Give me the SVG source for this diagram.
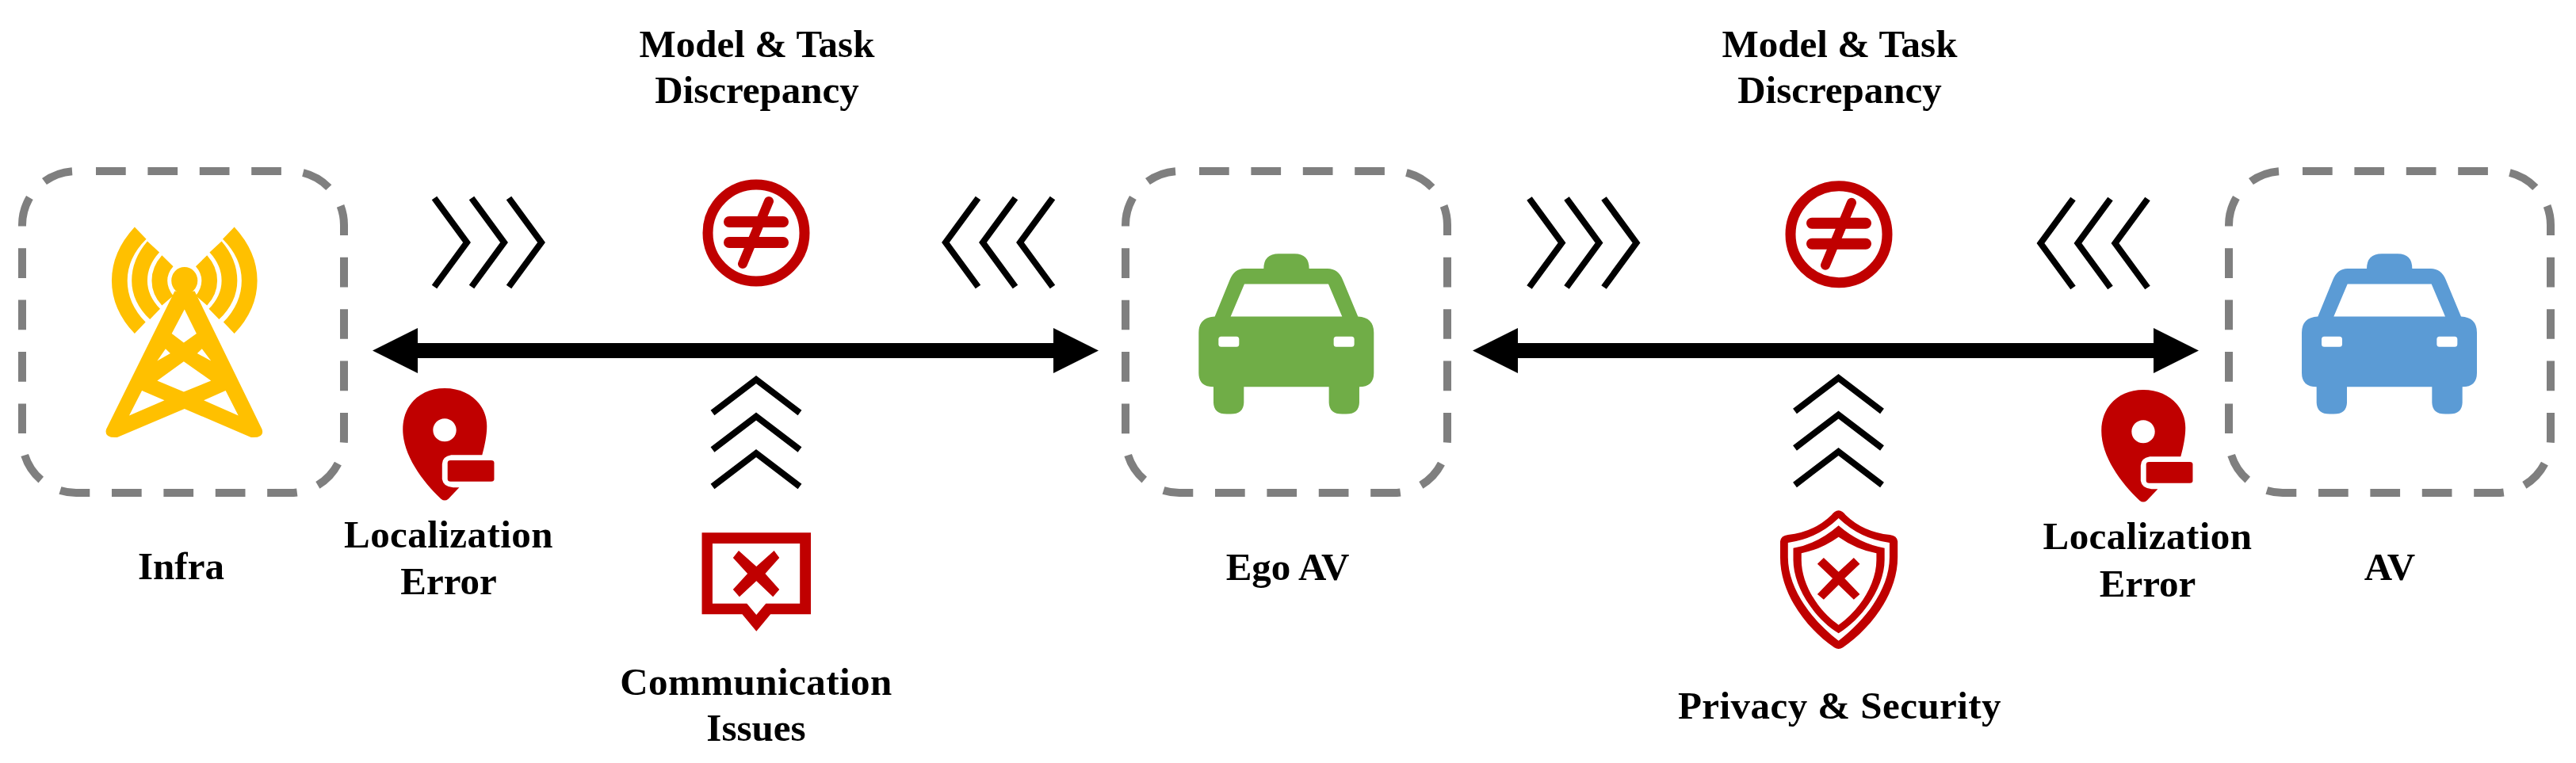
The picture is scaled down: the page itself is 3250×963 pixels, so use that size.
<svg xmlns="http://www.w3.org/2000/svg" width="3250" height="963" viewBox="0 0 3250 963">
<style>
text{font-family:"Liberation Serif","Times New Roman",serif;font-weight:700;font-size:49px;fill:#000;text-anchor:middle}
.w{letter-spacing:.45px}
.box{fill:none;stroke:#7f7f7f;stroke-width:10;stroke-dasharray:37.7 27.7;stroke-dashoffset:40.4}
.chev{fill:none;stroke:#000;stroke-width:8;stroke-linejoin:miter;stroke-miterlimit:6}
.arrow{stroke:#000;stroke-width:19;marker-start:url(#head);marker-end:url(#head)}
.red{fill:#c00000}
.bar{fill:#c00000}
</style>
<defs>
<marker id="head" markerWidth="3" markerHeight="3" refX="0" refY="1.5" orient="auto-start-reverse" overflow="visible"><path d="M0,0L3,1.5L0,3Z" fill="#000"/></marker>
<path id="car" fill-rule="evenodd" transform="translate(1400 190) scale(.3333 .3508)" d="M583,425Q583,371 640,371L700,371Q755,371 755,425L825,425Q865,425 882,465L940,597Q1000,600 1000,655L1000,800Q1000,850 945,850L945,905Q945,948 895,948L880,948Q830,948 830,905L830,850L508,850L508,905Q508,948 458,948L443,948Q393,948 393,905L393,850Q337,850 337,800L337,655Q337,600 398,597L455,465Q472,425 510,425ZM510,480L458,597L880,597L828,480ZM422,669Q412,669 412,679L412,696Q412,706 422,706L480,706Q490,706 490,696L490,679Q490,669 480,669ZM858,669Q848,669 848,679L848,696Q848,706 858,706L916,706Q926,706 926,696L926,679Q926,669 916,669Z"/>
<g id="pin" transform="translate(0 180) scale(.4591 .3827)">
<path class="red" fill-rule="evenodd" d="M1222,810C1290,810 1338,865 1338,935C1338,965 1332,1000 1325,1030L1240,1030Q1215,1035 1215,1060L1215,1110Q1218,1135 1245,1137L1262,1137L1232,1175Q1222,1185 1212,1175C1160,1115 1107,1030 1107,945C1107,865 1155,810 1222,810ZM1222,910C1204,910 1190,927 1190,948C1190,969 1204,986 1222,986C1240,986 1254,969 1254,948C1254,927 1240,910 1222,910Z"/>
<rect class="red" x="1230" y="1048" width="128" height="70" rx="8" ry="8"/>
</g>
<g id="neq">
<circle cx="954" cy="294" r="61" fill="none" stroke="#c00000" stroke-width="13"/>
<rect class="bar" x="913" y="273" width="82" height="14" rx="7"/>
<rect class="bar" x="913" y="299" width="82" height="14" rx="7"/>
<line x1="970" y1="254" x2="937" y2="333" stroke="#c00000" stroke-width="12" stroke-linecap="round"/>
</g>
<g id="right3">
<path class="chev" d="M548,250L589,306L548,362"/>
<path class="chev" d="M595,250L636,306L595,362"/>
<path class="chev" d="M642,250L683,306L642,362"/>
</g>
<g id="left3">
<path class="chev" d="M1234,250L1193,306L1234,362"/>
<path class="chev" d="M1281,250L1240,306L1281,362"/>
<path class="chev" d="M1328,250L1287,306L1328,362"/>
</g>
<g id="up3">
<path class="chev" d="M899,521L954,479L1009,521"/>
<path class="chev" d="M899,567.5L954,525.5L1009,567.5"/>
<path class="chev" d="M899,614L954,572L1009,614"/>
</g>
</defs>
<rect width="3250" height="963" fill="#fff"/>

<g id="connectors">
<line class="arrow" x1="527" y1="442.5" x2="1329" y2="442.5"/>
<line class="arrow" x1="1915" y1="442.5" x2="2717" y2="442.5"/>
<use href="#right3"/>
<use href="#left3"/>
<use href="#up3"/>
<use href="#right3" transform="translate(1381.5 .5)"/>
<use href="#left3" transform="translate(1381.5 1)"/>
<use href="#up3" transform="translate(1365.5 -2)"/>
</g>

<g id="infra">
<rect class="box" x="28" y="216" width="406" height="406" rx="68" ry="68"/>
<g transform="translate(0 180) scale(.4591 .3827)" fill="#ffc000">
<g id="waves">
<path d="M370,278Q307,360 307,455Q307,550 370,630L400,592Q350,530 350,455Q350,380 402,318Z"/>
<path d="M405,325Q362,385 362,455Q362,525 412,583L440,548Q405,505 405,455Q405,405 438,362Z"/>
<path d="M445,372Q417,410 417,455Q417,500 445,537L476,505Q460,480 460,455Q460,430 476,408Z"/>
</g>
<use href="#waves" transform="translate(1014 0) scale(-1 1)"/>
<ellipse cx="507" cy="455" rx="36" ry="45"/>
<path fill-rule="evenodd" d="M480,490L292,945Q285,975 322,972L507,878L690,972Q728,975 720,945L535,490ZM507,550L540,630L505,660L472,630ZM455,680L468,695L432,720ZM555,680L542,695L580,720ZM505,722L580,785L505,822L432,785ZM390,818L452,850L355,900ZM620,818L560,850L655,900Z"/>
</g>
<text x="228.5" y="731">Infra</text>
</g>

<g id="ego-av">
<rect class="box" x="1420" y="216" width="406" height="406" rx="68" ry="68"/>
<use href="#car" fill="#70ad47"/>
<text x="1624.5" y="732">Ego AV</text>
</g>

<g id="av">
<rect class="box" x="2812" y="216" width="406" height="406" rx="68" ry="68"/>
<use href="#car" fill="#5b9bd5" transform="translate(1391.7 0)"/>
<text x="3015" y="731.5">AV</text>
</g>

<g id="loc-error-left">
<use href="#pin"/>
<text class="w" x="566" y="691">Localization</text>
<text x="566" y="749.5">Error</text>
</g>

<g id="loc-error-right">
<use href="#pin" transform="translate(2143 2)"/>
<text class="w" x="2709.5" y="693">Localization</text>
<text x="2709.5" y="752.5">Error</text>
</g>

<g id="discrepancy-left">
<text x="955" y="72">Model &amp; Task</text>
<text x="955" y="130">Discrepancy</text>
<use href="#neq"/>
</g>

<g id="discrepancy-right">
<text x="2321" y="72">Model &amp; Task</text>
<text x="2321" y="130">Discrepancy</text>
<use href="#neq" transform="translate(1366 1.7)"/>
</g>

<g id="communication">
<g transform="translate(740 450) scale(.4464 .3333)" class="red">
<path fill-rule="evenodd" d="M326,667L634,667L634,976L520,976L480,1040L440,976L326,976ZM356,708L356,935L453,935L480,978L507,935L603,935L603,708Z"/>
<path d="M430,735L480,795L530,735L545,762L505,822L545,882L527,910L480,850L432,910L414,882L455,822L414,762Z"/>
</g>
<text class="w" x="954" y="877">Communication</text>
<text x="954" y="935">Issues</text>
</g>

<g id="privacy">
<g transform="translate(2150 450) scale(.4464 .3333)">
<path class="red" d="M380,583Q392,585 400,600Q450,665 525,675Q545,678 547,700L547,760C547,900 470,1030 392,1102Q380,1112 368,1102C290,1030 215,900 215,760L215,700Q217,678 237,675Q310,665 360,600Q368,585 380,583Z"/>
<path fill="#fff" d="M380,612Q440,690 524,705L524,760C524,880 455,1000 380,1076C305,1000 237,880 237,760L237,705Q320,690 380,612Z"/>
<path class="red" d="M380,640Q440,710 510,725L510,770C510,870 450,990 380,1048C310,990 252,870 252,770L252,725Q320,710 380,640Z"/>
<path fill="#fff" d="M380,683Q430,730 487,745L487,770C487,860 440,960 380,1016C320,960 275,860 275,770L275,745Q330,730 380,683Z"/>
<path class="red" d="M338,762L380,815L423,762L440,785L397,840L440,900L423,920L380,865L338,920L320,900L363,840L320,785Z"/>
</g>
<text class="w" x="2321" y="907">Privacy &amp; Security</text>
</g>
</svg>
